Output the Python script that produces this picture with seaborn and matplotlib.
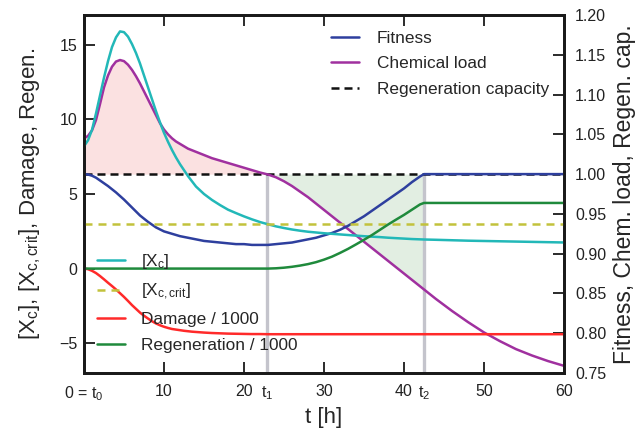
import matplotlib
matplotlib.use("Agg")
import matplotlib.pyplot as plt
import seaborn as sns

# ---------------- data ----------------
T = [0, 0.5, 1, 1.5, 2, 2.5, 3, 3.5, 4, 4.5,
     5, 5.5, 6, 6.5, 7, 7.5, 8, 8.5, 9, 9.5,
     10, 10.5, 11, 11.5, 12, 12.5, 13, 13.5, 14,
     15, 16, 17, 18, 19, 20, 21, 22, 23, 24,
     25, 26, 27, 28, 29, 30, 31, 32, 33, 34,
     35, 36, 37, 38, 39, 40, 41, 42, 42.5,
     44, 46, 48, 50, 52, 54, 56, 58, 60]

T1 = 22.9   # t_1
T2 = 42.5   # t_2
XC_CRIT = 3.0
REGEN_CAP = 1.0

# [X_c] (left axis)
xc = [8.2, 8.6, 9.3, 10.4, 11.6, 12.8, 13.9, 14.85, 15.5, 15.9,
      15.85, 15.55, 15.05, 14.45, 13.75, 12.95, 12.15, 11.35, 10.55, 9.8,
      9.1, 8.5, 7.95, 7.45, 7.0, 6.6, 6.2, 5.85, 5.5,
      5.0, 4.6, 4.26, 3.95, 3.72, 3.5, 3.3, 3.12, 2.97, 2.83,
      2.72, 2.62, 2.54, 2.47, 2.42, 2.37, 2.33, 2.29, 2.25, 2.21,
      2.17, 2.14, 2.11, 2.07, 2.04, 2.01, 1.98, 1.96, 1.95,
      1.93, 1.90, 1.87, 1.85, 1.83, 1.81, 1.79, 1.77, 1.75]

# Damage / 1000 (left axis)
damage = [0.0, -0.04, -0.15, -0.3, -0.5, -0.72, -0.95, -1.17, -1.4, -1.65,
          -1.9, -2.17, -2.45, -2.7, -2.95, -3.16, -3.35, -3.53, -3.68, -3.8,
          -3.9, -3.98, -4.05, -4.09, -4.13, -4.17, -4.2, -4.23, -4.25,
          -4.29, -4.32, -4.34, -4.36, -4.37, -4.38, -4.39, -4.39, -4.4, -4.4,
          -4.4, -4.4, -4.4, -4.4, -4.4, -4.4, -4.4, -4.4, -4.4, -4.4,
          -4.4, -4.4, -4.4, -4.4, -4.4, -4.4, -4.4, -4.4, -4.4,
          -4.4, -4.4, -4.4, -4.4, -4.4, -4.4, -4.4, -4.4, -4.4]

# Regeneration / 1000 (left axis)
regeneration = [0.0, 0.0, 0.0, 0.0, 0.0, 0.0, 0.0, 0.0, 0.0, 0.0,
                0.0, 0.0, 0.0, 0.0, 0.0, 0.0, 0.0, 0.0, 0.0, 0.0,
                0.0, 0.0, 0.0, 0.0, 0.0, 0.0, 0.0, 0.0, 0.0,
                0.0, 0.0, 0.0, 0.0, 0.0, 0.0, 0.0, 0.0, 0.0, 0.02,
                0.06, 0.12, 0.2, 0.3, 0.43, 0.6, 0.8, 1.05, 1.32, 1.62,
                1.93, 2.25, 2.6, 2.95, 3.28, 3.6, 3.95, 4.3, 4.4,
                4.4, 4.4, 4.4, 4.4, 4.4, 4.4, 4.4, 4.4, 4.4]

# Fitness (right axis)
fitness = [1.0, 0.9995, 0.998, 0.9955, 0.992, 0.9885, 0.985, 0.981, 0.977, 0.9725,
           0.968, 0.963, 0.958, 0.953, 0.948, 0.944, 0.940, 0.9365, 0.933, 0.9305,
           0.928, 0.9265, 0.925, 0.9235, 0.922, 0.921, 0.920, 0.919, 0.918,
           0.916, 0.915, 0.914, 0.913, 0.912, 0.912, 0.911, 0.911, 0.911, 0.912,
           0.913, 0.914, 0.916, 0.918, 0.920, 0.923, 0.926, 0.930, 0.935, 0.941,
           0.947, 0.954, 0.961, 0.968, 0.975, 0.982, 0.990, 0.997, 1.0,
           1.0, 1.0, 1.0, 1.0, 1.0, 1.0, 1.0, 1.0, 1.0]

# Chemical load (right axis)
chem_load = [1.045, 1.048, 1.055, 1.068, 1.088, 1.109, 1.124, 1.135, 1.1415, 1.1434,
             1.142, 1.1375, 1.131, 1.123, 1.114, 1.104, 1.094, 1.084, 1.074, 1.064,
             1.056, 1.050, 1.045, 1.041, 1.038, 1.035, 1.032, 1.030, 1.028,
             1.024, 1.020, 1.017, 1.014, 1.011, 1.008, 1.005, 1.002, 0.9995, 0.996,
             0.991, 0.985, 0.978, 0.971, 0.963, 0.955, 0.947, 0.939, 0.931, 0.923,
             0.915, 0.907, 0.899, 0.891, 0.883, 0.875, 0.867, 0.859, 0.855,
             0.843, 0.828, 0.814, 0.801, 0.790, 0.780, 0.772, 0.765, 0.759]

x_ticks = [0, 10, 20, 30, 40, 50, 60]
x_tick_labels = ['0 = t$_0$', '10', '20', '30', '40', '50', '60']
x_marks = [T1, T2]
x_mark_labels = ['t$_1$', 't$_2$']
left_ticks = [-5, 0, 5, 10, 15]
right_ticks = [0.75, 0.80, 0.85, 0.90, 0.95, 1.00, 1.05, 1.10, 1.15, 1.20]

for s in (xc, damage, regeneration, fitness, chem_load):
    assert len(s) == len(T), len(s)

xc_crit = [XC_CRIT for _ in T]
regen_cap = [REGEN_CAP for _ in T]

# ---------------- style ----------------
sns.set_style("ticks")
plt.rcParams['font.family'] = ['Liberation Sans', 'DejaVu Sans']
plt.rcParams['mathtext.fontset'] = 'custom'
plt.rcParams['mathtext.rm'] = 'Liberation Sans'
plt.rcParams['mathtext.it'] = 'Liberation Sans:italic'
plt.rcParams['mathtext.default'] = 'regular'
plt.rcParams.update({
    'xtick.direction': 'in', 'ytick.direction': 'in',
    'xtick.major.size': 8, 'ytick.major.size': 8,
    'xtick.major.width': 1.3, 'ytick.major.width': 1.3,
    'xtick.color': '#1a1a1a', 'ytick.color': '#1a1a1a',
    'xtick.top': True, 'xtick.bottom': True,
})

C_CYAN = '#22b8b8'
C_OLIVE = '#c2c23c'
C_RED = '#ff2a2a'
C_GREEN = '#1f8a3c'
C_BLUE = '#2e3f9e'
C_PURPLE = '#a0309f'
C_VLINE = '#c4c4cc'
LW = 1.8
TICK_FS = 11.5
LEG_FS = 12.4

fig = plt.figure(figsize=(6.39, 4.34), dpi=100)
ax = fig.add_axes([84 / 639, 61 / 434, 480 / 639, 358 / 434])
ax2 = ax.twinx()
ax.set_zorder(ax2.get_zorder() + 1)
ax.patch.set_visible(False)

# ---------------- right axis: fitness, chemical load, regen capacity ----------------
ax2.fill_between(T, chem_load, regen_cap,
                 where=[c >= REGEN_CAP for c in chem_load],
                 interpolate=True, color='#fbe1e1', lw=0, zorder=0)
ax2.fill_between(T, chem_load, regen_cap,
                 where=[(c <= REGEN_CAP) and (t <= T2) for c, t in zip(chem_load, T)],
                 interpolate=True, color='#e2eee2', lw=0, zorder=0)
ax2.vlines(x_marks, 0.75, REGEN_CAP, colors=C_VLINE, lw=2.4, zorder=1)

sns.lineplot(x=T, y=regen_cap, ax=ax2, color='#111111', lw=LW,
             label='Regeneration capacity', zorder=2)
l_cap = ax2.lines[-1]
l_cap.set_dashes((3.2, 2.0))
sns.lineplot(x=T, y=chem_load, ax=ax2, color=C_PURPLE, lw=LW,
             label='Chemical load', zorder=3)
l_chem = ax2.lines[-1]
sns.lineplot(x=T, y=fitness, ax=ax2, color=C_BLUE, lw=LW,
             label='Fitness', zorder=4)
l_fit = ax2.lines[-1]

# ---------------- left axis ----------------
sns.lineplot(x=T, y=xc, ax=ax, color=C_CYAN, lw=LW, label='[X$_c$]')
l_xc = ax.lines[-1]
sns.lineplot(x=T, y=xc_crit, ax=ax, color=C_OLIVE, lw=LW, label='[X$_{c,crit}$]')
l_crit = ax.lines[-1]
l_crit.set_dashes((3.2, 2.4))
sns.lineplot(x=T, y=damage, ax=ax, color=C_RED, lw=LW, label='Damage / 1000')
l_dam = ax.lines[-1]
sns.lineplot(x=T, y=regeneration, ax=ax, color=C_GREEN, lw=LW, label='Regeneration / 1000')
l_reg = ax.lines[-1]

# ---------------- axes ----------------
ax.set_xlim(0, 60)
ax.set_ylim(-7, 17)
ax2.set_ylim(0.75, 1.20)

ax.set_xticks(x_ticks)
ax.set_xticklabels(x_tick_labels)
ax.set_xticks(x_marks, minor=True)
ax.set_xticklabels(x_mark_labels, minor=True)
ax.set_yticks(left_ticks)
ax.set_yticklabels(['\u22125', '0', '5', '10', '15'])
ax2.set_yticks(right_ticks)
ax2.set_yticklabels(['%.2f' % v for v in right_ticks])

ax.xaxis.set_ticks_position('both')
ax.tick_params(axis='x', which='major', direction='in', length=8, width=1.3,
               color='#1a1a1a', top=True, bottom=True, pad=8,
               labelsize=TICK_FS, labelcolor='#222222')
ax.tick_params(axis='x', which='minor', direction='in', length=0, top=False,
               pad=8, labelsize=TICK_FS, labelcolor='#222222')
ax.tick_params(axis='y', which='major', direction='in', length=8, width=1.3,
               color='#1a1a1a', left=True, right=False, pad=5,
               labelsize=TICK_FS, labelcolor='#222222')
ax2.tick_params(axis='y', which='major', direction='in', length=8, width=1.3,
                color='#1a1a1a', right=True, left=False, pad=8,
                labelsize=TICK_FS, labelcolor='#222222')

for a in (ax, ax2):
    for sp in a.spines.values():
        sp.set_visible(True)
        sp.set_linewidth(2.0)
        sp.set_color('#1a1a1a')

ax.set_xlabel('t [h]', fontsize=16, labelpad=3)
ax.set_ylabel('[X$_c$], [X$_{c,crit}$], Damage, Regen.', fontsize=16, labelpad=11.5)
ax2.set_ylabel('Fitness, Chem. load, Regen. cap.', fontsize=16.5, labelpad=5)

# ---------------- legends ----------------
ax2.legend([l_fit, l_chem, l_cap], ['Fitness', 'Chemical load', 'Regeneration capacity'],
           loc='upper left', bbox_to_anchor=(0.500, 0.975), frameon=False,
           fontsize=LEG_FS, handlelength=1.63, handletextpad=1.05, labelspacing=0.6,
           borderaxespad=0)
ax.legend([l_xc, l_crit, l_dam, l_reg],
          ['[X$_c$]', '[X$_{c,crit}$]', 'Damage / 1000', 'Regeneration / 1000'],
          loc='lower left', bbox_to_anchor=(0.012, 0.037), frameon=False,
          fontsize=LEG_FS, handlelength=1.63, handletextpad=0.97, labelspacing=0.6,
          borderaxespad=0)

fig.savefig('out.png', dpi=100)
